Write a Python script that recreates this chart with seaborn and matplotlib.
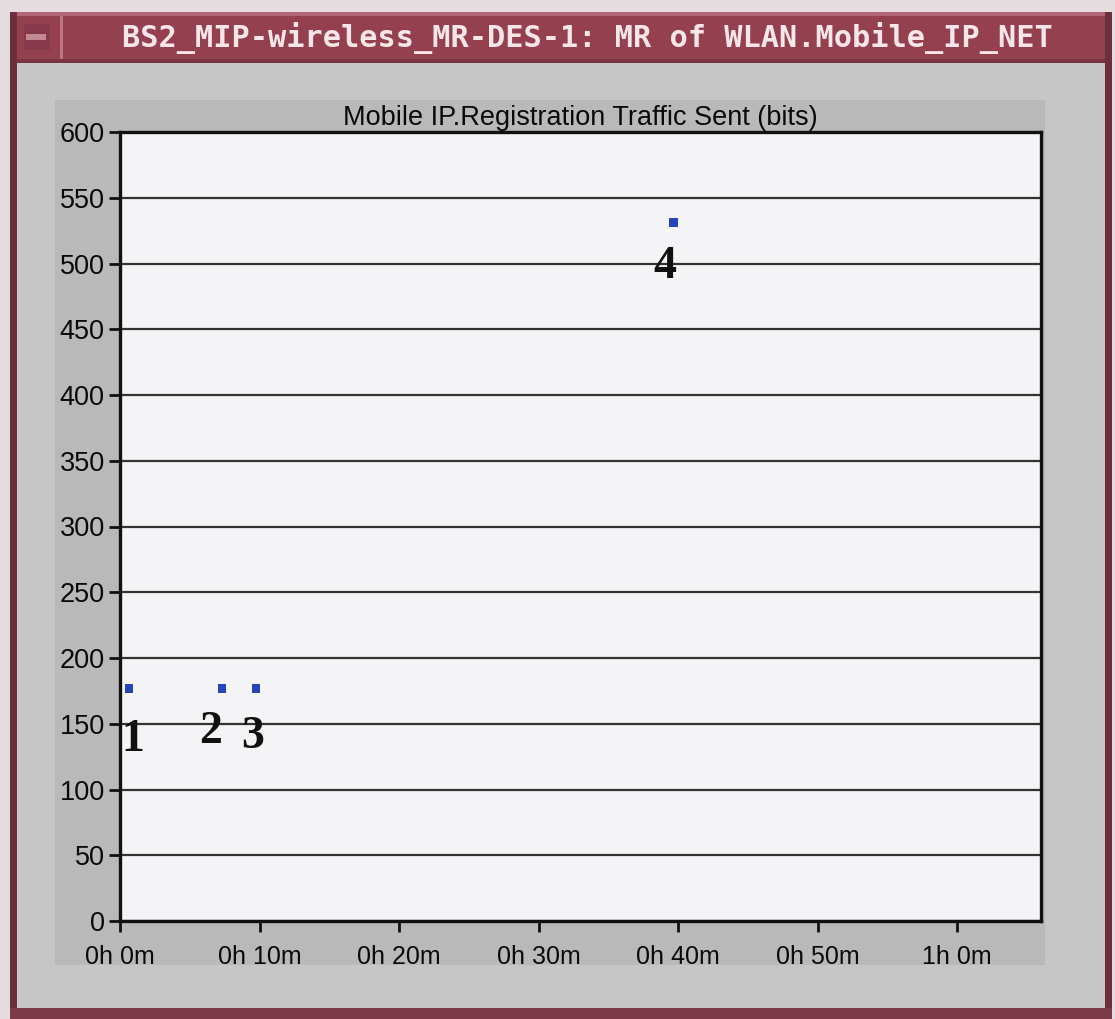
import matplotlib
matplotlib.use("Agg")
import matplotlib.pyplot as plt
from matplotlib.patches import Rectangle
import pandas as pd
import seaborn as sns

# Registration traffic events (time in minutes, bits sent)
event_ids = ["1", "2", "3", "4"]
event_minutes = [0.65, 7.3, 9.75, 39.65]
event_bits = [177, 177, 177, 531]

x_tick_minutes = [0, 10, 20, 30, 40, 50, 60]
x_tick_labels = ["0h 0m", "0h 10m", "0h 20m", "0h 30m", "0h 40m", "0h 50m", "1h 0m"]
y_ticks = list(range(0, 601, 50))

window_title = "BS2_MIP-wireless_MR-DES-1: MR of WLAN.Mobile_IP_NET"
chart_title = "Mobile IP.Registration Traffic Sent (bits)"

# label placement relative to each marker, in pixels
label_offsets = [(4, -63), (-11, -55), (-3, -60), (-8, -55)]

sns.set_theme(style="white")
plt.rcParams["font.family"] = ["Liberation Sans", "DejaVu Sans"]

W, H = 1115, 1019
fig = plt.figure(figsize=(W / 100, H / 100), dpi=100)
fig.patch.set_facecolor("#c6c6c6")


def px_rect(x, y, w, h, color):
    fig.patches.append(Rectangle((x / W, 1 - (y + h) / H), w / W, h / H,
                                 transform=fig.transFigure, facecolor=color,
                                 edgecolor="none", zorder=-5))


# window frame
px_rect(0, 0, W, 12, "#e4dcde")
px_rect(0, 0, 10, H, "#e4dcde")
px_rect(1112, 0, 3, H, "#e4dcde")
px_rect(10, 12, 7, 998, "#6e2f3c")
px_rect(1105, 12, 7, 998, "#6e2f3c")
px_rect(10, 1008, 1102, 11, "#7a3a47")
# title bar
px_rect(17, 12, 1088, 51, "#94404f")
px_rect(17, 12, 1088, 4, "#b06674")
px_rect(17, 59, 1088, 4, "#7a3341")
px_rect(24, 24, 26, 26, "#86394a")
px_rect(26, 34, 20, 6, "#c48a94")
px_rect(60, 16, 3, 43, "#bd7683")
fig.text(587 / W, 1 - 38 / H, window_title, ha="center", va="center",
         family="DejaVu Sans Mono", fontweight="bold", fontsize=21.8,
         color="#f6e6e9")
# inner chart panel
px_rect(55, 100, 990, 865, "#b9b9b9")

# plot area
left, right, top, bottom = 120, 1041, 132, 921
ax = fig.add_axes([left / W, 1 - bottom / H, (right - left) / W, (bottom - top) / H])
ax.set_facecolor("#f4f4f6")

df = pd.DataFrame({"minutes": event_minutes, "bits": event_bits, "event": event_ids})
sns.scatterplot(data=df, x="minutes", y="bits", marker="s", s=38, color="#2545bd",
                edgecolor="none", ax=ax, zorder=5, clip_on=False)

for (xv, yv, lab), (dx, dy) in zip(zip(event_minutes, event_bits, event_ids), label_offsets):
    ax.annotate(lab, (xv, yv), xytext=(dx, dy), textcoords="offset pixels",
                ha="center", va="baseline", family="Liberation Serif",
                fontweight="bold", fontsize=33, color="#111111", zorder=6)

ax.set_xlim(0, 66)
ax.set_ylim(0, 600)
ax.set_yticks(y_ticks)
ax.set_xticks(x_tick_minutes)
ax.set_xticklabels(x_tick_labels)
ax.yaxis.grid(True, color="#333333", linewidth=1.6)
ax.xaxis.grid(False)
ax.set_axisbelow(True)
for s in ax.spines.values():
    s.set_color("#111111")
    s.set_linewidth(2.4)
ax.tick_params(axis="both", direction="out", length=8, width=2, color="#111111",
               left=True, bottom=True, pad=3)
ax.tick_params(axis="y", labelsize=19.5, labelcolor="#0a0a0a")
ax.tick_params(axis="x", labelsize=18, labelcolor="#0a0a0a", pad=9)
ax.set_xlabel("")
ax.set_ylabel("")
ax.set_title(chart_title, fontsize=19.5, color="#0a0a0a", pad=5)

fig.savefig("out.png", dpi=100, facecolor=fig.get_facecolor())
